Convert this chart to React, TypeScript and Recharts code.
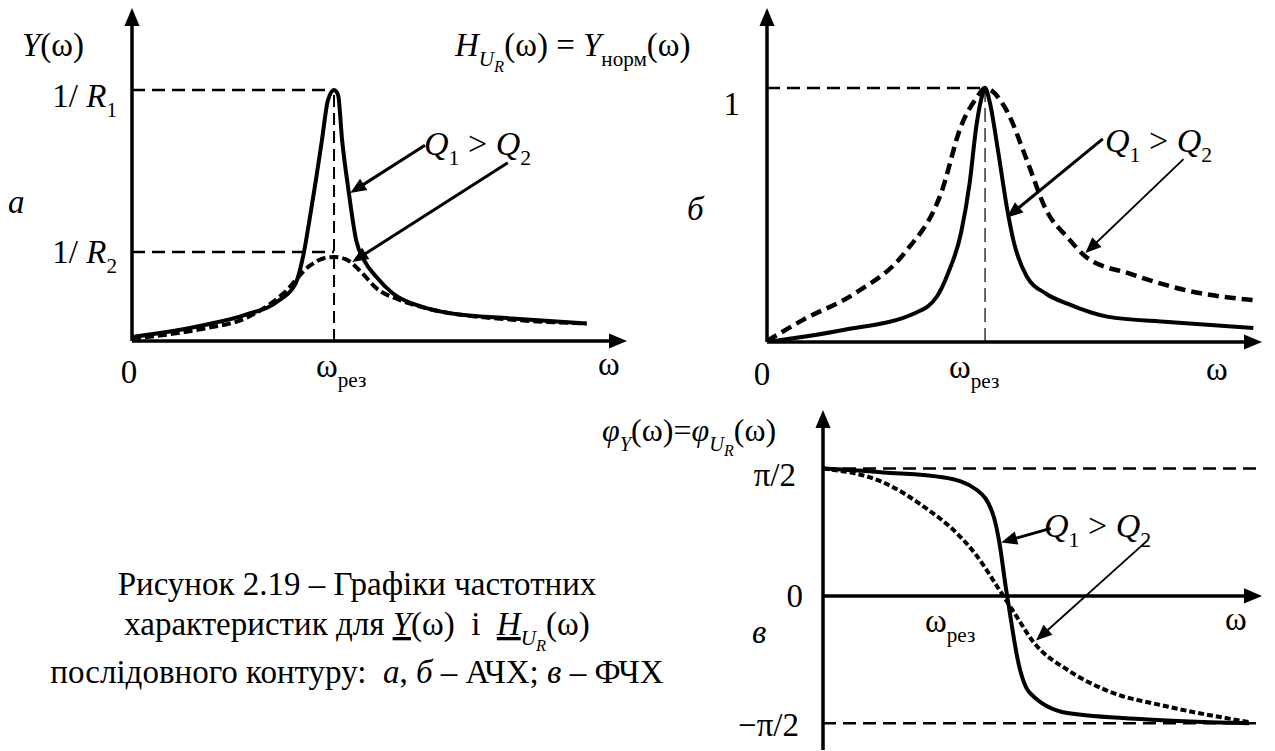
import React from "react";
import { Line, LineChart, ReferenceLine, XAxis, YAxis } from "recharts";

const SERIF = '"Liberation Serif", "Times New Roman", Times, serif';

// (а) Y(ω): ω in units of ω_рез, Y in units of 1/R1
const aHighQW = [0, 0.36, 0.56, 0.73, 0.81, 0.85, 0.88, 0.91, 0.94, 0.97, 1.0, 1.02, 1.04, 1.07, 1.11, 1.15, 1.21, 1.29, 1.44, 1.58, 1.88, 2.25];
const aHighQY = [0.016, 0.064, 0.104, 0.163, 0.23, 0.35, 0.49, 0.64, 0.8, 0.96, 1.0, 0.98, 0.8, 0.61, 0.4, 0.32, 0.255, 0.19, 0.135, 0.11, 0.09, 0.07];
const aLowQW = [0, 0.36, 0.56, 0.75, 0.88, 0.95, 1.0, 1.06, 1.14, 1.21, 1.32, 1.46, 1.88, 2.25];
const aLowQY = [0.01, 0.05, 0.09, 0.19, 0.3, 0.33, 0.335, 0.325, 0.27, 0.21, 0.165, 0.13, 0.085, 0.07];
const aLevels = [1, 0.355]; // 1/R1, 1/R2

// (б) H_UR(ω) = Y_норм(ω)
const bHighQW = [0, 0.35, 0.68, 0.78, 0.83, 0.89, 0.93, 0.96, 0.99, 1.0, 1.02, 1.06, 1.1, 1.13, 1.19, 1.28, 1.38, 1.56, 1.84, 2.23];
const bHighQY = [0, 0.047, 0.114, 0.18, 0.27, 0.43, 0.63, 0.85, 0.98, 1.0, 0.95, 0.75, 0.53, 0.4, 0.26, 0.19, 0.15, 0.1, 0.079, 0.055];
const bLowQW = [0, 0.165, 0.4, 0.63, 0.8, 0.89, 0.96, 1.0, 1.1, 1.19, 1.28, 1.38, 1.47, 1.66, 1.94, 2.23];
const bLowQY = [0.004, 0.087, 0.19, 0.35, 0.59, 0.85, 0.96, 1.0, 0.91, 0.72, 0.52, 0.41, 0.33, 0.27, 0.2, 0.165];

// (в) φ(ω) in units of π/2
const cHighQW = [0, 0.33, 0.66, 0.84, 0.93, 0.96, 0.995, 1.02, 1.06, 1.125, 1.33, 1.77, 2.32];
const cHighQY = [1.0, 0.97, 0.93, 0.83, 0.62, 0.42, 0.07, -0.16, -0.5, -0.76, -0.92, -0.97, -1.0];
const cLowQW = [0, 0.33, 0.55, 0.73, 0.84, 0.95, 1.04, 1.15, 1.33, 1.54, 1.88, 2.32];
const cLowQY = [1.0, 0.89, 0.7, 0.49, 0.31, 0.07, -0.13, -0.37, -0.58, -0.74, -0.87, -0.99];

// annotation arrows "Q1 > Q2" (from, to) in data units
const aPointers = [[[1.45, 0.78], [1.08, 0.59]], [[1.86, 0.71], [1.09, 0.315]]];
const bPointers = [[[1.54, 0.8], [1.1, 0.49]], [[1.91, 0.72], [1.46, 0.35]]];
const cPointers = [[[1.24, 0.53], [0.97, 0.42]], [[1.77, 0.44], [1.16, -0.35]]];

const toPoints = (w: number[], y: number[]) => w.map((x, i) => ({ x, y: y[i] }));

type Part = { t: string; i?: boolean; lvl?: number; u?: boolean };

function Rich({ x, y, parts, size, anchor = "start" }: { x: number; y: number; parts: Part[]; size: number; anchor?: string }) {
  const off = [0, size * 0.3, size * 0.48];
  const fs = [size, size * 0.64, size * 0.5];
  let cur = 0;
  return (
    <text x={x} y={y} fontSize={size} textAnchor={anchor} fill="#000" style={{ whiteSpace: "pre", fontFamily: SERIF }}>
      {parts.map((p, k) => {
        const lv = p.lvl ?? 0;
        const dy = off[lv] - cur;
        cur = off[lv];
        return (
          <tspan key={k} dy={dy} fontSize={fs[lv]} fontStyle={p.i ? "italic" : "normal"} textDecoration={p.u ? "underline" : undefined}>
            {p.t}
          </tspan>
        );
      })}
    </text>
  );
}

function arrowShape(head: number, width: number) {
  return (p: any) => {
    const { x1, y1, x2, y2 } = p;
    const len = Math.hypot(x2 - x1, y2 - y1) || 1;
    const ux = (x2 - x1) / len;
    const uy = (y2 - y1) / len;
    const bx = x2 - ux * head;
    const by = y2 - uy * head;
    const hw = head * 0.42;
    return (
      <g>
        <line x1={x1} y1={y1} x2={bx + ux} y2={by + uy} stroke="#000" strokeWidth={width} />
        <polygon points={`${x2},${y2} ${bx - uy * hw},${by + ux * hw} ${bx + uy * hw},${by - ux * hw}`} fill="#000" />
      </g>
    );
  };
}

const omegaRes: Part[] = [{ t: "ω" }, { t: "рез", lvl: 1 }];
const q12: Part[] = [{ t: "Q", i: true }, { t: "1", lvl: 1 }, { t: " > " }, { t: "Q", i: true }, { t: "2", lvl: 1 }];

type Series = { data: { x: number; y: number }[]; w: number; dash?: string };
type Guide = { seg: number[][]; w: number; dash: string };

function Panel(props: {
  box: { left: number; top: number; width: number; height: number };
  margin: { top: number; right: number; bottom: number; left: number };
  xMax: number;
  yMin: number;
  yMax: number;
  xTicks?: number[];
  yTicks?: number[];
  xTick?: any;
  yTick?: any;
  series: Series[];
  guides: Guide[];
  axes: number[][][];
  pointers: number[][][];
  thinSecond?: boolean;
}) {
  const { box, margin, xMax, yMin, yMax, series, guides, axes, pointers } = props;
  return (
    <div style={{ position: "absolute", left: box.left, top: box.top }}>
      <LineChart width={box.width} height={box.height} margin={margin}>
        <XAxis type="number" dataKey="x" domain={[0, xMax]} allowDataOverflow ticks={props.xTicks ?? []} interval={0}
          axisLine={false} tickLine={false} tickSize={0} tickMargin={0} height={1} tick={props.xTick ?? false} />
        <YAxis type="number" dataKey="y" domain={[yMin, yMax]} allowDataOverflow ticks={props.yTicks ?? []} interval={0}
          axisLine={false} tickLine={false} tickSize={0} tickMargin={0} width={1} tick={props.yTick ?? false} />
        {guides.map((g, k) => (
          <ReferenceLine key={"g" + k} segment={[{ x: g.seg[0][0], y: g.seg[0][1] }, { x: g.seg[1][0], y: g.seg[1][1] }]}
            stroke="#000" strokeWidth={g.w} strokeDasharray={g.dash} ifOverflow="visible" />
        ))}
        {series.map((s, k) => (
          <Line key={"s" + k} data={s.data} dataKey="y" type="monotone" stroke="#000" strokeWidth={s.w}
            strokeDasharray={s.dash} dot={false} activeDot={false} isAnimationActive={false} />
        ))}
        {axes.map((a, k) => (
          <ReferenceLine key={"a" + k} segment={[{ x: a[0][0], y: a[0][1] }, { x: a[1][0], y: a[1][1] }]}
            ifOverflow="visible" shape={arrowShape(18, 3.5)} />
        ))}
        {pointers.map((a, k) => (
          <ReferenceLine key={"p" + k} segment={[{ x: a[0][0], y: a[0][1] }, { x: a[1][0], y: a[1][1] }]}
            ifOverflow="visible" shape={k === 1 && props.thinSecond ? arrowShape(16, 1.8) : arrowShape(16, 3)} />
        ))}
      </LineChart>
    </div>
  );
}

const A_X = 2.45, A_Y = 1.327;
const B_X = 2.27, B_Y = 1.315;
const C_X = 2.39, C_YMIN = -1.21, C_YMAX = 1.46;
const FS = 33;

export default function App() {
  const aXTick = (p: any) =>
    p.payload.value === 0 ? <Rich x={p.x - 3} y={p.y + 42} anchor="middle" parts={[{ t: "0" }]} size={FS} />
      : <Rich x={p.x - 18} y={p.y + 36} parts={omegaRes} size={FS} />;
  const aYTick = (p: any) => (
    <Rich x={p.x - 15} y={p.y + (p.payload.value === 1 ? 17 : 11)} anchor="end" size={FS}
      parts={[{ t: "1/ " }, { t: "R", i: true }, { t: p.payload.value === 1 ? "1" : "2", lvl: 1 }]} />
  );
  const bXTick = (p: any) =>
    p.payload.value === 0 ? <Rich x={p.x - 5} y={p.y + 43} anchor="middle" parts={[{ t: "0" }]} size={FS} />
      : <Rich x={p.x - 36} y={p.y + 36} parts={omegaRes} size={FS} />;
  const bYTick = (p: any) => <Rich x={p.x - 27} y={p.y + 27} anchor="end" size={FS} parts={[{ t: "1" }]} />;
  const cYTick = (p: any) => {
    const v = p.payload.value;
    if (v === 0) return <Rich x={p.x - 20} y={p.y + 11} anchor="end" size={FS} parts={[{ t: "0" }]} />;
    return <Rich x={p.x - (v > 0 ? 27 : 24)} y={p.y + (v > 0 ? 17 : 13)} anchor="end" size={FS} parts={[{ t: v > 0 ? "π/2" : "−π/2" }]} />;
  };

  return (
    <div style={{ position: "absolute", left: 0, top: 0, width: 1275, height: 751, background: "#fff" }}>
      <Panel
        box={{ left: 0, top: 0, width: 660, height: 400 }}
        margin={{ top: 8, right: 33, bottom: 58, left: 131 }}
        xMax={A_X} yMin={0} yMax={A_Y}
        xTicks={[0, 1]} yTicks={aLevels} xTick={aXTick} yTick={aYTick}
        series={[
          { data: toPoints(aLowQW, aLowQY), w: 4, dash: "9 4" },
          { data: toPoints(aHighQW, aHighQY), w: 4 },
        ]}
        guides={[
          { seg: [[0, aLevels[0]], [1, aLevels[0]]], w: 2.5, dash: "13 7" },
          { seg: [[0, aLevels[1]], [1, aLevels[1]]], w: 2.5, dash: "13 7" },
          { seg: [[1, 0], [1, aLevels[0]]], w: 2, dash: "12 6" },
        ]}
        axes={[[[0, 0], [A_X, 0]], [[0, 0], [0, A_Y]]]}
        pointers={aPointers}
      />
      <Panel
        box={{ left: 640, top: 0, width: 635, height: 400 }}
        margin={{ top: 8, right: 13, bottom: 57, left: 126 }}
        xMax={B_X} yMin={0} yMax={B_Y}
        xTicks={[0, 1]} yTicks={[1]} xTick={bXTick} yTick={bYTick}
        series={[
          { data: toPoints(bLowQW, bLowQY), w: 4.5, dash: "11 6" },
          { data: toPoints(bHighQW, bHighQY), w: 4 },
        ]}
        guides={[
          { seg: [[0, 1], [1, 1]], w: 2.5, dash: "13 7" },
          { seg: [[1, 0], [1, 1]], w: 1.2, dash: "14 6" },
        ]}
        axes={[[[0, 0], [B_X, 0]], [[0, 0], [0, B_Y]]]}
        pointers={bPointers}
        thinSecond
      />
      <Panel
        box={{ left: 640, top: 400, width: 635, height: 351 }}
        margin={{ top: 10, right: 13, bottom: 0, left: 182 }}
        xMax={C_X} yMin={C_YMIN} yMax={C_YMAX}
        yTicks={[1, 0, -1]} yTick={cYTick}
        series={[
          { data: toPoints(cLowQW, cLowQY), w: 4, dash: "6 3" },
          { data: toPoints(cHighQW, cHighQY), w: 4 },
        ]}
        guides={[
          { seg: [[0, 1], [C_X, 1]], w: 2.5, dash: "13 7" },
          { seg: [[0, -1], [C_X, -1]], w: 2.5, dash: "13 7" },
        ]}
        axes={[[[0, 0], [C_X, 0]], [[0, C_YMIN], [0, C_YMAX]]]}
        pointers={cPointers}
        thinSecond
      />
      <svg width={1275} height={751} style={{ position: "absolute", left: 0, top: 0, pointerEvents: "none" }}>
        <Rich x={22} y={56} size={FS} parts={[{ t: "Y", i: true }, { t: "(ω)" }]} />
        <Rich x={8} y={213} size={FS} parts={[{ t: "а", i: true }]} />
        <Rich x={424} y={155} size={34} parts={q12} />
        <Rich x={598} y={375} size={FS} parts={[{ t: "ω" }]} />

        <Rich x={455} y={56} size={FS} parts={[
          { t: "H", i: true }, { t: "U", i: true, lvl: 1 }, { t: "R", i: true, lvl: 2 }, { t: "(ω) = " },
          { t: "Y", i: true }, { t: "норм", lvl: 1 }, { t: "(ω)" },
        ]} />
        <Rich x={687} y={220} size={FS} parts={[{ t: "б", i: true }]} />
        <Rich x={1105} y={152} size={34} parts={q12} />
        <Rich x={1206} y={380} size={FS} parts={[{ t: "ω" }]} />

        <Rich x={602} y={441} size={32} parts={[
          { t: "φ", i: true }, { t: "Y", i: true, lvl: 1 }, { t: "(ω)=" },
          { t: "φ", i: true }, { t: "U", i: true, lvl: 1 }, { t: "R", i: true, lvl: 2 }, { t: "(ω)" },
        ]} />
        <Rich x={752} y={643} size={FS} parts={[{ t: "в", i: true }]} />
        <Rich x={1044} y={537} size={34} parts={q12} />
        <Rich x={925} y={632} size={FS} parts={omegaRes} />
        <Rich x={1225} y={630} size={FS} parts={[{ t: "ω" }]} />

        <Rich x={357} y={595} size={33} anchor="middle" parts={[{ t: "Рисунок 2.19 – Графіки частотних" }]} />
        <Rich x={357} y={635} size={33} anchor="middle" parts={[
          { t: "характеристик для " }, { t: "Y", i: true, u: true }, { t: "(ω)  і  " },
          { t: "H", i: true, u: true }, { t: "U", i: true, lvl: 1 }, { t: "R", i: true, lvl: 2 }, { t: "(ω)" },
        ]} />
        <Rich x={357} y={683} size={33} anchor="middle" parts={[
          { t: "послідовного контуру:  " }, { t: "а", i: true }, { t: ", " }, { t: "б", i: true },
          { t: " – АЧХ; " }, { t: "в", i: true }, { t: " – ФЧХ" },
        ]} />
      </svg>
    </div>
  );
}
